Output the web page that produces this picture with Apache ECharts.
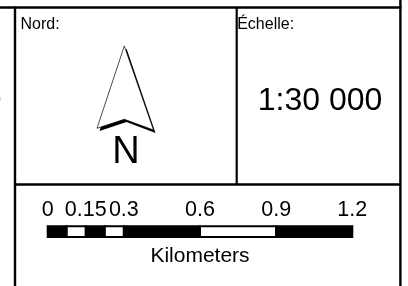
<!DOCTYPE html>
<html>
<head>
<meta charset="utf-8">
<script src="https://cdn.jsdelivr.net/npm/echarts@6/dist/echarts.min.js"></script>
<style>
html,body{margin:0;padding:0;background:#fff;}
#chart{width:408px;height:286px;}
</style>
</head>
<body>
<div id="chart"></div>
<script>
// Scale bar data (kilometers)
const tickValues = [0, 0.15, 0.3, 0.6, 0.9, 1.2];
const tickLabels = ['0', '0.15', '0.3', '0.6', '0.9', '1.2'];
const segStart = [0, 0.075, 0.15, 0.225, 0.3, 0.6, 0.9];
const segEnd   = [0.075, 0.15, 0.225, 0.3, 0.6, 0.9, 1.2];
const segFill  = ['#000', '#fff', '#000', '#fff', '#000', '#fff', '#000'];
const unitLabel = 'Kilometers';
const northTitle = 'Nord:';
const scaleTitle = 'Échelle:';
const scaleText = '1:30 000';
const northLetter = 'N';

const FONT = '"Liberation Sans", Arial, sans-serif';
const chart = echarts.init(document.getElementById('chart'), null, {renderer: 'canvas'});

const segData = segStart.map((s, i) => [s, segEnd[i], i]);

const labelMap = {};
tickValues.forEach((v, i) => { labelMap[v.toFixed(3)] = tickLabels[i]; });

const option = {
  animation: false,
  backgroundColor: '#fff',
  grid: {left: 47.7, right: 408 - 352.3, top: 226.3, height: 10.7, containLabel: false},
  xAxis: {
    type: 'value', position: 'top', min: 0, max: 1.2,
    axisLine: {show: false}, axisTick: {show: false}, splitLine: {show: false},
    axisLabel: {
      show: true, customValues: tickValues, margin: 5,
      fontSize: 21.5, fontFamily: FONT, color: '#000',
      formatter: v => labelMap[Number(v).toFixed(3)] !== undefined ? labelMap[Number(v).toFixed(3)] : ''
    }
  },
  yAxis: {type: 'value', min: 0, max: 1, show: false},
  series: [{
    type: 'custom',
    data: segData,
    clip: false,
    renderItem: function (params, api) {
      const p0 = api.coord([api.value(0), 1]);
      const p1 = api.coord([api.value(1), 0]);
      const idx = api.value(2);
      return {
        type: 'rect',
        shape: {x: p0[0], y: p0[1], width: p1[0] - p0[0], height: p1[1] - p0[1]},
        style: {fill: segFill[idx], stroke: '#000', lineWidth: 2}
      };
    }
  }],
  graphic: [
    // frame lines
    {type: 'line', shape: {x1: 0, y1: 7.5, x2: 401.5, y2: 7.5}, style: {stroke: '#000', lineWidth: 2.3}},
    {type: 'line', shape: {x1: 15, y1: 6.5, x2: 15, y2: 286}, style: {stroke: '#000', lineWidth: 2.4}},
    {type: 'line', shape: {x1: 400.4, y1: 0, x2: 400.4, y2: 286}, style: {stroke: '#000', lineWidth: 2.4}},
    {type: 'line', shape: {x1: 236.7, y1: 7.5, x2: 236.7, y2: 184.5}, style: {stroke: '#000', lineWidth: 2.2}},
    {type: 'line', shape: {x1: 15, y1: 184.5, x2: 400.4, y2: 184.5}, style: {stroke: '#000', lineWidth: 2.3}},
    {type: 'rect', shape: {x: 0, y: 97, width: 1, height: 4}, style: {fill: '#d8d8d8'}},
    // north arrow shadow and body
    {type: 'polygon', shape: {points: [[126.5, 48.5], [99.5, 131], [126.5, 122], [155.5, 133]]}, style: {fill: '#000'}},
    {type: 'polygon', shape: {points: [[124.3, 46], [97, 128.3], [124.3, 119.3], [153.5, 130]]}, style: {fill: '#fff', stroke: '#000', lineWidth: 0.7}},
    // texts
    {type: 'text', x: 20.5, y: 25, style: {text: northTitle, font: '16px ' + FONT, fill: '#000', verticalAlign: 'middle', align: 'left'}},
    {type: 'text', x: 237.2, y: 25, style: {text: scaleTitle, font: '16px ' + FONT, fill: '#000', verticalAlign: 'middle', align: 'left'}},
    {type: 'text', x: 320, y: 101, style: {text: scaleText, font: '32px ' + FONT, fill: '#000', verticalAlign: 'middle', align: 'center'}},
    {type: 'text', x: 126, y: 152.7, style: {text: northLetter, font: '38px ' + FONT, fill: '#000', verticalAlign: 'middle', align: 'center'}},
    {type: 'text', x: 200, y: 256.5, style: {text: unitLabel, font: '21px ' + FONT, fill: '#000', verticalAlign: 'middle', align: 'center'}}
  ]
};
chart.setOption(option);
</script>
</body>
</html>
